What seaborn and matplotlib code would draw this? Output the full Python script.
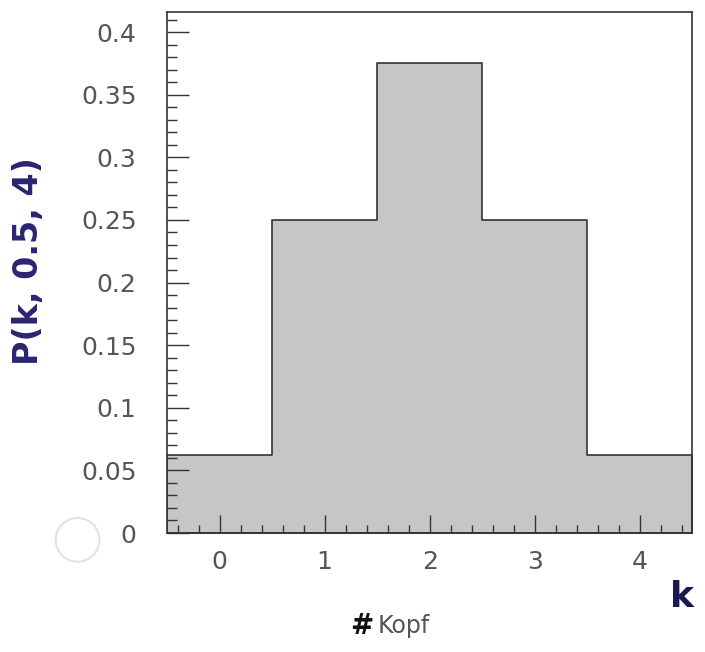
import numpy as np
import pandas as pd
import matplotlib
matplotlib.use("Agg")
import matplotlib.pyplot as plt
import matplotlib.ticker as ticker
from matplotlib.patches import Ellipse
import seaborn as sns

# Binomialverteilung n=4, p=0.5
k_werte = [0, 1, 2, 3, 4]
wahrsch = [0.0625, 0.25, 0.375, 0.25, 0.0625]
y_ticks = [0, 0.05, 0.1, 0.15, 0.2, 0.25, 0.3, 0.35, 0.4]
y_labels = ["0", "0.05", "0.1", "0.15", "0.2", "0.25", "0.3", "0.35", "0.4"]
x_ticks = [0, 1, 2, 3, 4]

df = pd.DataFrame({"k": k_werte, "P": wahrsch})

sns.set_style("white")
plt.rcParams['font.family'] = ['DejaVu Sans']

fig = plt.figure(figsize=(7.05, 6.52), dpi=100)
ax = fig.add_axes([0.237, 0.1825, 0.745, 0.799])

sns.histplot(data=df, x="k", weights="P", discrete=True, element="step",
             fill=True, color="#c6c6c6", alpha=1.0, edgecolor="#333333",
             linewidth=1.2, ax=ax)
ax.set_axisbelow(False)

ax.set_xlim(-0.5, 4.5)
ax.set_ylim(0, 0.416)

ax.set_xticks(x_ticks)
ax.set_xticklabels([str(v) for v in x_ticks])
ax.set_yticks(y_ticks)
ax.set_yticklabels(y_labels)
ax.xaxis.set_minor_locator(ticker.MultipleLocator(0.2))
ax.yaxis.set_minor_locator(ticker.MultipleLocator(0.01))

ax.tick_params(axis="both", which="both", direction="in", color="#333333",
               labelcolor="#555555", labelsize=18, width=1.0,
               left=True, bottom=True, right=False, top=False)
ax.tick_params(axis="y", which="major", length=16, pad=22)
ax.tick_params(axis="y", which="minor", length=7)
ax.tick_params(axis="x", which="major", length=13, pad=12)
ax.tick_params(axis="x", which="minor", length=6)

for sp in ax.spines.values():
    sp.set_visible(True)
    sp.set_color("#333333")
    sp.set_linewidth(1.2)

ax.set_xlabel("")
ax.set_ylabel("")

# handschriftliche Beschriftungen
fig.text(0.04, 0.60, "P(k, 0.5, 4)", rotation=90, ha="center", va="center",
         fontsize=24, fontweight="bold", color="#2b2472")
fig.text(0.985, 0.085, "k", ha="right", va="center", fontsize=26,
         fontweight="bold", color="#1c1850")
fig.text(0.53, 0.04, "#", ha="right", va="center", fontsize=20,
         fontweight="bold", color="#111111")
fig.text(0.535, 0.04, "Kopf", ha="left", va="center", fontsize=17,
         color="#555555")

# Lochung vom Scan
fig.patches.append(Ellipse((0.11, 0.172), 0.062, 0.062 * 705 / 652,
                           transform=fig.transFigure, facecolor="white",
                           edgecolor="#e2e2e2", lw=1.5))

fig.savefig("out.png", dpi=100)
